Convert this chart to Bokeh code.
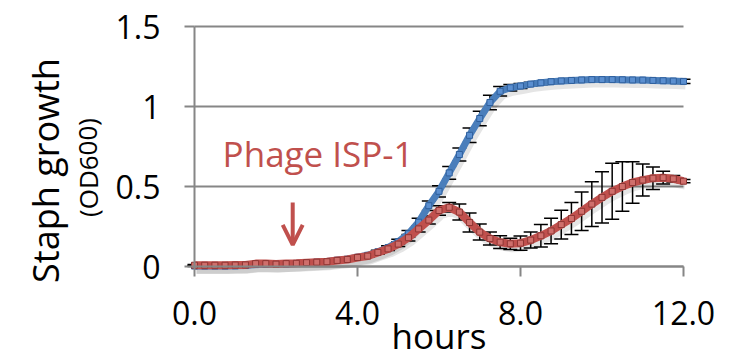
from bokeh.plotting import figure
from bokeh.models import (Range1d, FixedTicker, ColumnDataSource, Whisker, TeeHead,
                          Label, Arrow, OpenHead)
from bokeh.embed import file_html
from bokeh.resources import INLINE

# ---------------- data ----------------
hours = [i * 0.25 for i in range(49)]

no_phage = [0.003, 0.003, 0.003, 0.003, 0.004, 0.006, 0.012, 0.014, 0.013, 0.016,
            0.019, 0.023, 0.027, 0.031, 0.039, 0.046, 0.058, 0.070, 0.092, 0.118,
            0.155, 0.205, 0.277, 0.380, 0.470, 0.585, 0.700, 0.820, 0.925, 1.025,
            1.095, 1.117, 1.128, 1.140, 1.148, 1.155, 1.160, 1.163, 1.166, 1.168,
            1.168, 1.168, 1.167, 1.166, 1.165, 1.163, 1.161, 1.159, 1.157]
no_phage_err = [0.003] * 16 + [0.008, 0.010, 0.010, 0.012,
                0.015, 0.020, 0.025, 0.030, 0.035, 0.040, 0.040, 0.045, 0.045, 0.045,
                0.030, 0.020, 0.015, 0.012, 0.012, 0.012, 0.012, 0.012, 0.012, 0.012,
                0.012, 0.012, 0.012, 0.012, 0.012, 0.012, 0.012, 0.014, 0.014]

phage = [0.008, 0.008, 0.008, 0.008, 0.009, 0.010, 0.018, 0.018, 0.015, 0.018,
         0.020, 0.024, 0.027, 0.030, 0.038, 0.044, 0.056, 0.065, 0.088, 0.110,
         0.140, 0.180, 0.235, 0.290, 0.350, 0.370, 0.340, 0.275, 0.215, 0.175,
         0.152, 0.142, 0.146, 0.165, 0.192, 0.222, 0.262, 0.300, 0.345, 0.390,
         0.432, 0.470, 0.500, 0.525, 0.540, 0.552, 0.555, 0.548, 0.533]
phage_err = [0.005] * 18 + [0.010, 0.010,
             0.015, 0.020, 0.020, 0.025, 0.030, 0.030, 0.050, 0.060, 0.050, 0.040,
             0.040, 0.035, 0.045, 0.050, 0.070, 0.080, 0.090, 0.100, 0.120, 0.140,
             0.160, 0.175, 0.155, 0.130, 0.100, 0.070, 0.040, 0.020, 0.010]

x_ticks = [0, 4, 8, 12]
x_tick_labels = ["0.0", "4.0", "8.0", "12.0"]
y_ticks = [0, 0.5, 1, 1.5]
y_tick_labels = ["0", "0.5", "1", "1.5"]

# ---------------- layout / style ----------------
W, H = 733, 360
PLOT_L, PLOT_R, PLOT_T, PLOT_B = 194, 683, 26, 266   # pixel box of the data area
X0, X1, Y0, Y1 = 0, 12, 0, 1.5
px_x = (PLOT_R - PLOT_L) / (X1 - X0)
px_y = (PLOT_B - PLOT_T) / (Y1 - Y0)

def xd(px):   # pixel column -> data x
    return X0 + (px - PLOT_L) / px_x

def yd(py):   # pixel row (from top) -> data y
    return Y0 + (PLOT_B - py) / px_y

BLUE = "#4a7ebb"
RED = "#c0504d"
GRAY = "#868686"
FONT = "Open Sans"

p = figure(width=W, height=H,
           x_range=Range1d(xd(0), xd(W)), y_range=Range1d(yd(H), yd(0)),
           output_backend="svg", toolbar_location=None,
           min_border=0, min_border_left=0, min_border_right=0,
           min_border_top=0, min_border_bottom=0)
p.outline_line_color = None
p.background_fill_color = "white"
p.border_fill_color = "white"

# shadow ranges (offset 2 px right / 3 px down)
p.extra_x_ranges = {"sh": Range1d(xd(0) - 2 / px_x, xd(W) - 2 / px_x)}
p.extra_y_ranges = {"sh": Range1d(yd(H) + 3 / px_y, yd(0) + 3 / px_y)}

# axes drawn through the origin
p.xaxis.fixed_location = 0
p.yaxis.fixed_location = 0
p.xaxis.bounds = (X0, X1)
p.yaxis.bounds = (Y0, Y1)
p.xaxis.ticker = FixedTicker(ticks=x_ticks)
p.xaxis.major_label_overrides = {t: l for t, l in zip(x_ticks, x_tick_labels)}
p.yaxis.ticker = FixedTicker(ticks=y_ticks)
p.yaxis.major_label_overrides = {t: l for t, l in zip(y_ticks, y_tick_labels)}
for ax in (p.xaxis, p.yaxis):
    ax.axis_line_color = GRAY
    ax.axis_line_width = 2
    ax.major_tick_line_color = GRAY
    ax.major_tick_line_width = 2
    ax.major_tick_out = 10
    ax.major_tick_in = 0
    ax.minor_tick_line_color = None
    ax.major_label_text_font = FONT
    ax.major_label_text_font_size = "32px"
    ax.major_label_text_color = "black"
p.yaxis.major_label_standoff = 24
p.xaxis.major_label_standoff = 24

# horizontal gridlines limited to the data area
p.xgrid.grid_line_color = None
p.ygrid.grid_line_color = None
p.segment(x0=X0, x1=X1, y0=y_ticks, y1=y_ticks, line_color=GRAY, line_width=2,
          level="underlay")

src = ColumnDataSource(dict(
    t=hours,
    b=no_phage, b_up=[v + e for v, e in zip(no_phage, no_phage_err)],
    b_lo=[v - e for v, e in zip(no_phage, no_phage_err)],
    r=phage, r_up=[v + e for v, e in zip(phage, phage_err)],
    r_lo=[v - e for v, e in zip(phage, phage_err)],
))

# soft shadows
p.line("t", "b", source=src, x_range_name="sh", y_range_name="sh",
       line_color="black", line_alpha=0.10, line_width=10)
p.line("t", "r", source=src, x_range_name="sh", y_range_name="sh",
       line_color="black", line_alpha=0.10, line_width=11)

# error bars
for up, lo in (("b_up", "b_lo"), ("r_up", "r_lo")):
    w = Whisker(source=src, base="t", upper=up, lower=lo, level="underlay",
                line_color="black", line_width=1.5,
                upper_head=TeeHead(size=14, line_color="black", line_width=1.5),
                lower_head=TeeHead(size=14, line_color="black", line_width=1.5))
    p.add_layout(w)

# series
p.line("t", "b", source=src, line_color=BLUE, line_width=7)
p.scatter("t", "b", source=src, marker="square", size=6,
          fill_color="#5b8fd0", line_color="#2f5f9c", line_width=1)
p.line("t", "r", source=src, line_color=RED, line_width=8)
p.scatter("t", "r", source=src, marker="square", size=6,
          fill_color="#cf6f6c", line_color="#8e3533", line_width=1)

# annotations
p.add_layout(Label(x=0.69, y=0.705, text="Phage ISP-1", text_color=RED,
                   text_font=FONT, text_font_size="35px", text_baseline="alphabetic"))
p.add_layout(Arrow(end=OpenHead(size=20, line_color=RED, line_width=4),
                   x_start=2.41, y_start=0.40, x_end=2.41, y_end=0.135,
                   line_color=RED, line_width=4))

# axis titles
p.add_layout(Label(x=xd(45), y=yd(170), text="Staph growth", angle=1.5708,
                   text_font=FONT, text_font_size="36px", text_color="black",
                   text_align="center", text_baseline="middle"))
p.add_layout(Label(x=xd(87), y=yd(167), text="(OD600)", angle=1.5708,
                   text_font=FONT, text_font_size="26px", text_color="black",
                   text_align="center", text_baseline="middle"))
p.add_layout(Label(x=(X0 + X1) / 2, y=yd(335), text="hours",
                   text_font=FONT, text_font_size="35px", text_color="black",
                   text_align="center", text_baseline="middle"))

open("out.html", "w").write(file_html(p, INLINE))
